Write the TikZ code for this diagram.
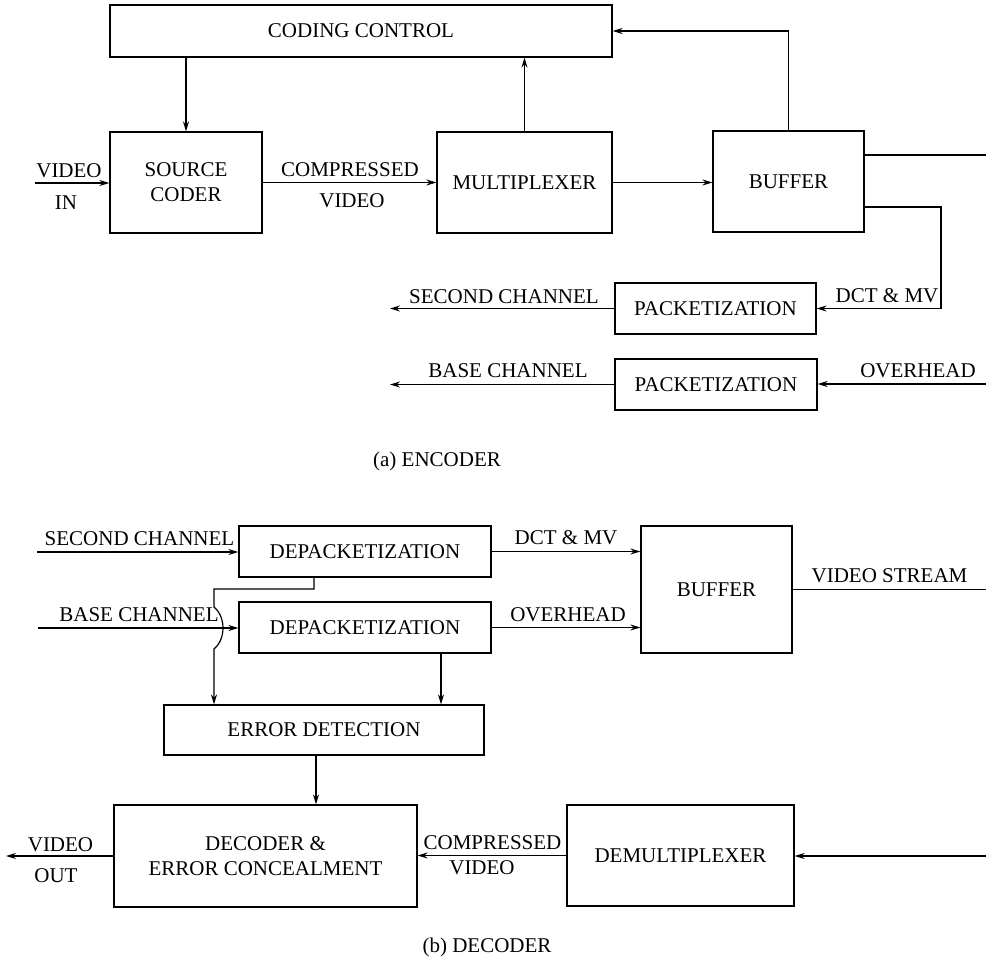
\documentclass[tikz,border=0pt]{standalone}
\usepackage{fontspec}
\setmainfont{Liberation Serif}
\usetikzlibrary{arrows.meta}
\begin{document}
\begin{tikzpicture}[x=1pt,y=-1pt,
  box/.style={draw,line width=1.2pt,inner sep=0pt,align=center,font=\fontsize{21}{25}\selectfont},
  lbl/.style={inner sep=0pt,font=\fontsize{21}{25}\selectfont},
  conn/.style={line width=1.2pt},
  arr/.style={line width=1.2pt,-{Stealth[length=10pt,width=6pt]}}]
\useasboundingbox (0,0) rectangle (986,958);
% ---------- Encoder ----------
\node[box,minimum width=502pt,minimum height=52pt] (cc) at (361,31) {CODING CONTROL};
\node[box,minimum width=152pt,minimum height=101pt] (sc) at (186,182.5) {SOURCE\\CODER};
\node[box,minimum width=175pt,minimum height=101pt] (mux) at (524.5,182.5) {MULTIPLEXER};
\node[box,minimum width=151pt,minimum height=101pt] (buf) at (788.5,181.5) {BUFFER};
\node[box,minimum width=201pt,minimum height=51pt] (pk1) at (715.5,308.5) {PACKETIZATION};
\node[box,minimum width=202pt,minimum height=51pt] (pk2) at (716,384.5) {PACKETIZATION};

\coordinate (vin) at (35,183);
\coordinate (bo1) at (986,155);
\coordinate (c1) at (941,207);
\coordinate (sch2) at (390,309);
\coordinate (oh) at (986,384);
\coordinate (bch2) at (390,384);

\draw[arr] (vin) -- (vin -| sc.west);
\draw[arr] (sc.east) -- (mux.west);
\draw[arr] (mux.east) -- (mux.east -| buf.west);
\draw[arr] (sc.north |- cc.south) -- (sc.north);
\draw[arr] (mux.north) -- (mux.north |- cc.south);
\draw[arr] (buf.north) |- (cc.east);
\draw[conn] (bo1 -| buf.east) -- (bo1);
\draw[arr] (c1 -| buf.east) -- (c1) |- (pk1.east);
\draw[arr] (pk1.west) -- (pk1.west -| sch2);
\draw[arr] (oh) -- (oh -| pk2.east);
\draw[arr] (pk2.west) -- (pk2.west -| bch2);

\node[lbl] (l1) at (69,171) {VIDEO};
\node[lbl] (l2) at (66,203) {IN};
\node[lbl] (l3) at (350,170) {COMPRESSED};
\node[lbl] (l4) at (352,201) {VIDEO};
\node[lbl] (l5) at (504,297) {SECOND CHANNEL};
\node[lbl] (l6) at (887,296) {DCT \& MV};
\node[lbl] (l7) at (508,371) {BASE CHANNEL};
\node[lbl] (l8) at (918,371) {OVERHEAD};
\node[lbl] (capa) at (437,461) {(a) ENCODER};

% ---------- Decoder ----------
\node[box,minimum width=252pt,minimum height=51pt] (dp1) at (365,551.5) {DEPACKETIZATION};
\node[box,minimum width=252pt,minimum height=51pt] (dp2) at (365,627.5) {DEPACKETIZATION};
\node[box,minimum width=151pt,minimum height=127pt] (dbuf) at (716.5,589.5) {BUFFER};
\node[box,minimum width=320pt,minimum height=50pt] (ed) at (324,730) {ERROR DETECTION};
\node[box,minimum width=303pt,minimum height=102pt] (dec) at (265.5,856) {DECODER \&\\ERROR CONCEALMENT};
\node[box,minimum width=227pt,minimum height=101pt] (demux) at (680.5,855.5) {DEMULTIPLEXER};

\coordinate (sin) at (37,552);
\coordinate (bin) at (38,628);
\coordinate (vs) at (986,589.5);
\coordinate (j) at (314,589);
\coordinate (k) at (214,589);
\coordinate (h1) at (214,607);
\coordinate (h2) at (214,649);
\coordinate (d2) at (441,653);
\coordinate (e) at (316,755);
\coordinate (din) at (986,856);
\coordinate (vout) at (6,856);

\draw[arr] (sin) -- (sin -| dp1.west);
\draw[arr] (bin) -- (bin -| dp2.west);
\draw[arr] (dp1.east) -- (dp1.east -| dbuf.west);
\draw[arr] (dp2.east) -- (dp2.east -| dbuf.west);
\draw[conn] (dbuf.east) -- (vs);
\draw[arr] (j |- dp1.south) -- (j) -- (k) -- (h1) .. controls (226,617) and (226,639) .. (h2) -- (h2 |- ed.north);
\draw[arr] (d2) -- (d2 |- ed.north);
\draw[arr] (e) -- (e |- dec.north);
\draw[arr] (din) -- (din -| demux.east);
\draw[arr] (demux.west) -- (demux.west -| dec.east);
\draw[arr] (dec.west) -- (vout);

\node[lbl] (m1) at (139.5,539) {SECOND CHANNEL};
\node[lbl] (m2) at (139,615) {BASE CHANNEL};
\node[lbl] (m3) at (566,538) {DCT \& MV};
\node[lbl] (m4) at (568,615) {OVERHEAD};
\node[lbl] (m5) at (889.5,576) {VIDEO STREAM};
\node[lbl] (m6) at (492.5,843) {COMPRESSED};
\node[lbl] (m7) at (482,868) {VIDEO};
\node[lbl] (m8) at (60.5,845) {VIDEO};
\node[lbl] (m9) at (56,876) {OUT};
\node[lbl] (capb) at (487,947) {(b) DECODER};
\end{tikzpicture}
\end{document}
